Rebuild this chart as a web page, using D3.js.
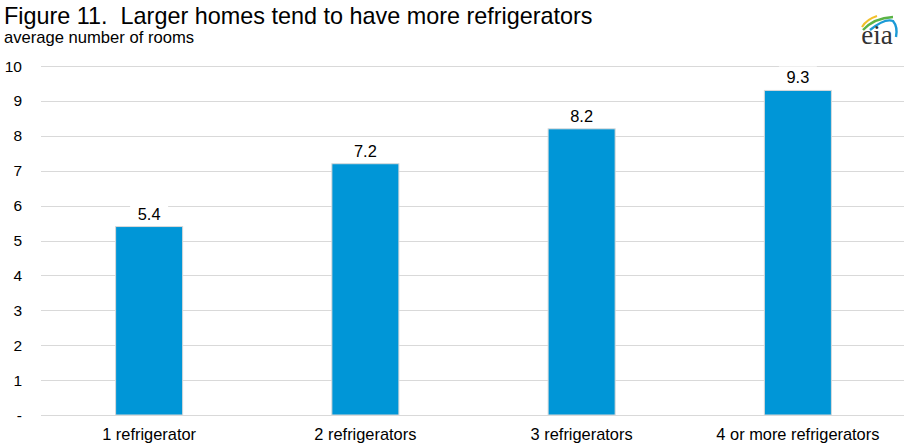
<!DOCTYPE html>
<html>
<head>
  <meta charset="UTF-8">
  <title>Figure 11</title>
  <style>
    body { margin: 0; background: #fff; }
    svg { display: block; font-family: "Liberation Sans", Arial, sans-serif; }
  </style>
</head>
<body>
<svg></svg>
<script src="https://d3js.org/d3.v7.min.js"></script>
<script>
    let width = 904, height = 446;

    // chart data
    var categories = ["1 refrigerator", "2 refrigerators", "3 refrigerators", "4 or more refrigerators"];
    var rooms = [5.4, 7.2, 8.2, 9.3];
    var yTicks = [0, 1, 2, 3, 4, 5, 6, 7, 8, 9, 10];
    var yTickLabels = ["-", "1", "2", "3", "4", "5", "6", "7", "8", "9", "10"];

    let svg = d3.select("svg").attr("width", width).attr("height", height);

    let x = d3.scaleBand()
        .domain(categories)
        .range([41, 906])
        .paddingInner(0.69)
        .paddingOuter(0.345);

    let y = d3.scaleLinear()
        .domain([0, 10])
        .range([415, 66]);

    // title + subtitle
    svg.append("text")
        .attr("x", 4).attr("y", 24)
        .style("font-size", "23.4px")
        .text("Figure 11.\u00a0\u00a0Larger homes tend to have more refrigerators");

    svg.append("text")
        .attr("x", 4).attr("y", 43)
        .style("font-size", "16.6px")
        .text("average number of rooms");

    // gridlines
    svg.append("g")
        .selectAll("line")
        .data(yTicks)
        .enter().append("line")
        .attr("x1", 41).attr("x2", width)
        .attr("y1", d => Math.round(y(d)) + 0.5)
        .attr("y2", d => Math.round(y(d)) + 0.5)
        .attr("stroke", "#d9d9d9")
        .attr("stroke-width", 1);

    // y tick labels
    svg.append("g")
        .selectAll("text")
        .data(yTicks)
        .enter().append("text")
        .attr("x", 22)
        .attr("y", d => y(d))
        .attr("dy", "0.36em")
        .attr("text-anchor", "end")
        .style("font-size", "15.5px")
        .text((d, i) => yTickLabels[i]);

    // bars
    svg.append("g")
        .selectAll("rect")
        .data(rooms)
        .enter().append("rect")
        .attr("x", (d, i) => x(categories[i]))
        .attr("y", d => y(d))
        .attr("width", x.bandwidth())
        .attr("height", d => y(0) - y(d))
        .attr("fill", "#0096d7")
        .attr("stroke", "#d9d9d9")
        .attr("stroke-width", 1);

    // value labels with white box
    let labels = svg.append("g")
        .selectAll("g")
        .data(rooms)
        .enter().append("g")
        .attr("transform", (d, i) => "translate(" + (x(categories[i]) + x.bandwidth() / 2) + "," + (y(d) - 7) + ")");

    labels.append("rect")
        .attr("x", -19).attr("y", -17)
        .attr("width", 38).attr("height", 20)
        .attr("fill", "#fff");

    labels.append("text")
        .attr("text-anchor", "middle")
        .style("font-size", "16.4px")
        .text(d => d.toFixed(1));

    // x labels
    svg.append("g")
        .selectAll("text")
        .data(categories)
        .enter().append("text")
        .attr("x", d => x(d) + x.bandwidth() / 2)
        .attr("y", 440)
        .attr("text-anchor", "middle")
        .style("font-size", "16.4px")
        .text(d => d);

    // eia logo
    let logo = svg.append("g");
    logo.append("path")
        .attr("d", "M862,27 Q867,19 877,16")
        .attr("fill", "none").attr("stroke", "#f2c02c").attr("stroke-width", 2.2);
    logo.append("path")
        .attr("d", "M863,30 Q874,18 893,17")
        .attr("fill", "none").attr("stroke", "#5bb346").attr("stroke-width", 2.4);
    logo.append("path")
        .attr("d", "M870,30 Q885,18 893,21 Q898,27 896,37")
        .attr("fill", "none").attr("stroke", "#1b9ad6").attr("stroke-width", 2.4);
    logo.append("text")
        .attr("x", 877).attr("y", 44)
        .attr("text-anchor", "middle")
        .style("font-family", "'Liberation Serif', 'DejaVu Serif', serif")
        .style("font-size", "27px")
        .attr("fill", "#333")
        .text("eia");
</script>
</body>
</html>
